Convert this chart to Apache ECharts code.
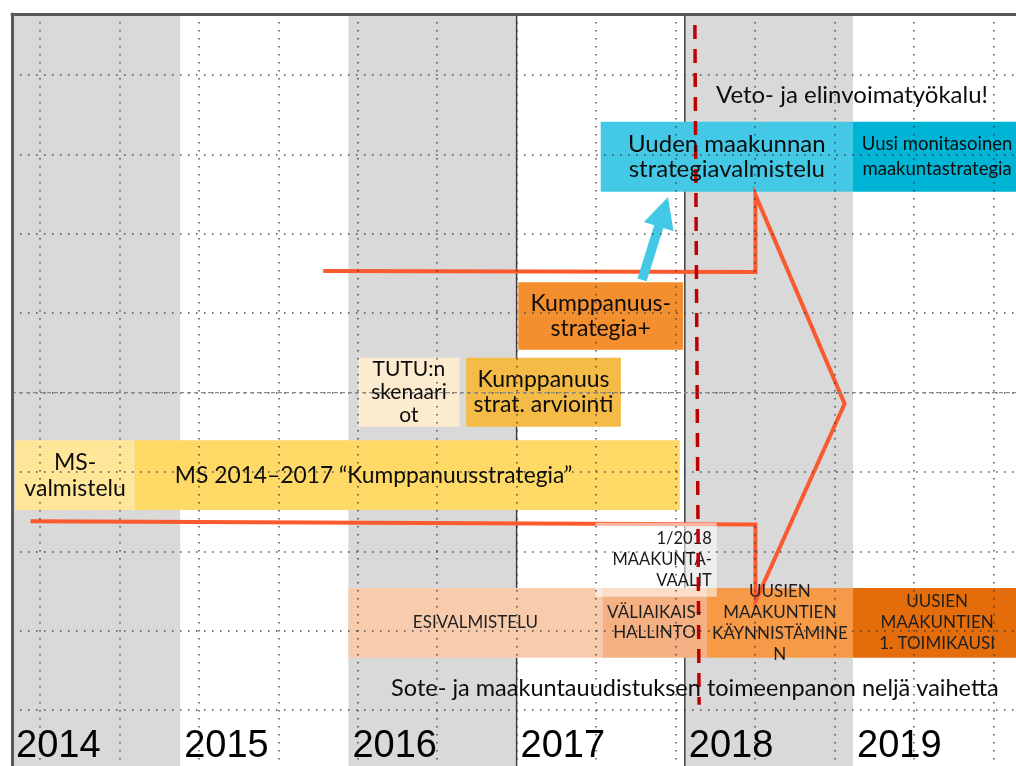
<!DOCTYPE html>
<html><head><meta charset="utf-8">
<script src="https://cdn.jsdelivr.net/npm/echarts@6/dist/echarts.min.js"></script>
<style>html,body{margin:0;padding:0;background:#fff}#c{width:1016px;height:766px}</style>
</head><body><div id="c"></div>
<script>
// ---------- data ----------
const yearLabels = ['2014', '2015', '2016', '2017', '2018', '2019'];
const shadedYears = [2014, 2016, 2018];
const dividerYears = [2017, 2018];

// phase boxes: time span (years) and vertical extent (lane units)
const boxNames = [
  'MS-\nvalmistelu',
  'MS 2014–2017 “Kumppanuusstrategia”',
  'TUTU:n\nskenaari\not',
  'Kumppanuus\nstrat. arviointi',
  'Kumppanuus-\nstrategia+',
  'Uuden maakunnan\nstrategiavalmistelu',
  'Uusi monitasoinen\nmaakuntastrategia',
  'ESIVALMISTELU',
  'VÄLIAIKAIS-\nHALLINTO',
  'UUSIEN\nMAAKUNTIEN\nKÄYNNISTÄMINE\nN',
  'UUSIEN\nMAAKUNTIEN\n1. TOIMIKAUSI'
];
const boxStart  = [2014.02, 2014.73, 2016.06, 2016.70, 2017.01, 2017.50, 2019.00, 2016.00, 2017.51, 2018.13, 2019.00];
const boxEnd    = [2014.73, 2017.97, 2016.66, 2017.62, 2017.99, 2019.00, 2020.00, 2017.51, 2018.13, 2019.00, 2020.00];
const laneTop   = [5.60, 5.60, 4.56, 4.56, 3.61, 1.59, 1.59, 7.46, 7.46, 7.46, 7.46];
const laneBottom= [6.48, 6.48, 5.43, 5.43, 4.46, 2.47, 2.47, 8.34, 8.34, 8.34, 8.34];

// election note box
const electionName = '1/2018\nMAAKUNTA-\nVAALIT';
const electionSpan = [2017.47, 2018.19];
const electionLanes = [6.64, 7.57];
const electionLineYear = [2018.06, 2018.085];
const electionLineLane = [0.37, 8.93];

// transition arrow outline (years, lanes)
const pathYear = [2015.85, 2018.42, 2018.42, 2018.95, 2018.42, 2018.42, 2014.11];
const pathLane = [3.47, 3.48, 2.51, 5.14, 7.63, 6.66, 6.62];

// cyan arrow from Kumppanuusstrategia+ to new strategy
const arrowYear = [2017.746, 2017.900];
const arrowLane = [3.58, 2.537];

// free notes
const noteTexts = ['Veto- ja elinvoimatyökalu!', 'Sote- ja maakuntauudistuksen toimeenpanon neljä vaihetta'];
const noteYear = [2018.994, 2018.06];
const noteLane = [1.252, 8.72];

const centerLane = 5;

// ---------- styles ----------
const FONT = 'Lato';
const boxFill = ['#FFE699', '#FFD966', '#FDEBCF', '#F4BC46', '#F48F2F', '#43C9E6', '#00B4D5', '#F8CBAD', '#F5B183', '#F69A48', '#E46C0A'];
const labelFmt = [
  {size: 23, lh: 26},
  {size: 22.8, lh: 26, align: 'left', dx: 40},
  {size: 21, lh: 23},
  {size: 23, lh: 25},
  {size: 23, lh: 25},
  {size: 24, lh: 25},
  {size: 18.5, lh: 25},
  {size: 17, lh: 20},
  {size: 17, lh: 20},
  {size: 17, lh: 21},
  {size: 17, lh: 21}
];
const noteSize = [24, 23.5];

const chart = echarts.init(document.getElementById('c'), null, {renderer: 'canvas'});

const hidden = {axisLine: {show: false}, axisTick: {show: false}, axisLabel: {show: false}, splitLine: {show: false}};
const dotted = {show: true, lineStyle: {color: 'rgba(50,50,50,0.85)', width: 1.5, type: [1.5, 6.5]}};

const option = {
  backgroundColor: '#fff',
  animation: false,
  grid: [
    {left: 12, top: -4.4, width: 1009.2, height: 794, outerBoundsMode: 'none', containLabel: false},
    {left: -39.44, top: 14, width: 79.44 * 14, height: 752, outerBoundsMode: 'none', containLabel: false},
    {left: 12, top: 14, width: 1009.2, height: 752, outerBoundsMode: 'none', containLabel: false}
  ],
  xAxis: [
    Object.assign({gridIndex: 0, type: 'value', min: 2014, max: 2020}, hidden),
    Object.assign({gridIndex: 1, type: 'value', min: 0, max: 14, interval: 1, z: 4}, hidden, {splitLine: dotted}),
    {gridIndex: 2, type: 'value', min: 2014, max: 2020, interval: 1, position: 'bottom', z: 10,
      axisLine: {show: false}, axisTick: {show: false}, splitLine: {show: false},
      axisLabel: {inside: true, margin: 0, align: 'left', padding: [0, 0, 0, 4], fontSize: 38,
        fontFamily: 'Liberation Sans', color: '#000', showMaxLabel: false,
        formatter: v => yearLabels[Math.round(v) - 2014] || ''}},
    {gridIndex: 2, type: 'value', min: 2014, max: 2020, position: 'top', z: 10,
      axisLine: {show: true, lineStyle: {color: '#595959', width: 3}}, axisTick: {show: false},
      axisLabel: {show: false}, splitLine: {show: false}}
  ],
  yAxis: [
    Object.assign({gridIndex: 0, type: 'value', min: 0, max: 10, interval: 1, inverse: true, z: 4}, hidden, {splitLine: dotted}),
    Object.assign({gridIndex: 1, type: 'value', min: 0, max: 1}, hidden),
    {gridIndex: 2, type: 'value', min: 0, max: 1, position: 'left', z: 10,
      axisLine: {show: true, lineStyle: {color: '#595959', width: 3}}, axisTick: {show: false},
      axisLabel: {show: false}, splitLine: {show: false}}
  ],
  series: [
    // shaded year bands
    {type: 'custom', xAxisIndex: 2, yAxisIndex: 2, z: 1, silent: true,
      data: shadedYears.map(y => [y, 0]), encode: {x: 0, y: 1},
      renderItem(params, api) {
        const cs = params.coordSys;
        const x0 = api.coord([api.value(0), 0])[0];
        const x1 = api.coord([api.value(0) + 1, 0])[0];
        return {type: 'rect', shape: {x: x0, y: cs.y, width: x1 - x0, height: cs.height}, style: {fill: '#D9D9D9'}};
      }},
    // year dividers
    {type: 'custom', xAxisIndex: 2, yAxisIndex: 2, z: 1.5, silent: true,
      data: dividerYears.map(y => [y, 0]), encode: {x: 0, y: 1},
      renderItem(params, api) {
        const cs = params.coordSys;
        const x = api.coord([api.value(0), 0])[0];
        return {type: 'line', shape: {x1: x, y1: cs.y, x2: x, y2: cs.y + cs.height}, style: {stroke: '#404040', lineWidth: 1.5}};
      }},
    // phase boxes
    {type: 'custom', xAxisIndex: 0, yAxisIndex: 0, z: 2, silent: true,
      data: boxNames.map((n, i) => [boxStart[i], boxEnd[i], laneTop[i], laneBottom[i], i]),
      encode: {x: [0, 1], y: [2, 3]},
      renderItem(params, api) {
        const i = api.value(4);
        const p0 = api.coord([api.value(0), api.value(2)]);
        const p1 = api.coord([api.value(1), api.value(3)]);
        return {type: 'rect', shape: {x: p0[0], y: p0[1], width: p1[0] - p0[0], height: p1[1] - p0[1]}, style: {fill: boxFill[i]}};
      }},
    // transition arrow outline
    {type: 'line', xAxisIndex: 0, yAxisIndex: 0, z: 3, silent: true, symbol: 'none',
      data: pathYear.map((x, i) => [x, pathLane[i]]),
      lineStyle: {color: '#FA5A2D', width: 4, join: 'miter'}},
    // cyan arrow
    {type: 'custom', xAxisIndex: 0, yAxisIndex: 0, z: 3.2, silent: true,
      data: [[arrowYear[0], arrowLane[0], arrowYear[1], arrowLane[1]]], encode: {x: [0, 2], y: [1, 3]},
      renderItem(params, api) {
        const a = api.coord([api.value(0), api.value(1)]);
        const b = api.coord([api.value(2), api.value(3)]);
        const dx = b[0] - a[0], dy = b[1] - a[1];
        const L = Math.sqrt(dx * dx + dy * dy);
        const ux = dx / L, uy = dy / L, nx = -uy, ny = ux;
        const hl = 31, hw = 15.5, sw = 4.8;
        const bx = b[0] - ux * hl, by = b[1] - uy * hl;
        const pts = [
          [a[0] + nx * sw, a[1] + ny * sw], [bx + nx * sw, by + ny * sw], [bx + nx * hw, by + ny * hw],
          [b[0], b[1]], [bx - nx * hw, by - ny * hw], [bx - nx * sw, by - ny * sw], [a[0] - nx * sw, a[1] - ny * sw]
        ];
        return {type: 'polygon', shape: {points: pts}, style: {fill: '#43C9E6'}};
      }},
    // election note box (translucent)
    {type: 'custom', xAxisIndex: 0, yAxisIndex: 0, z: 3.4, silent: true,
      data: [[electionSpan[0], electionSpan[1], electionLanes[0], electionLanes[1]]], encode: {x: [0, 1], y: [2, 3]},
      renderItem(params, api) {
        const p0 = api.coord([api.value(0), api.value(2)]);
        const p1 = api.coord([api.value(1), api.value(3)]);
        return {type: 'group', children: [
          {type: 'rect', shape: {x: p0[0], y: p0[1], width: p1[0] - p0[0], height: p1[1] - p0[1]}, style: {fill: 'rgba(255,255,255,0.55)'}},
          {type: 'text', z2: 50, style: {text: electionName, x: p1[0] - 5, y: (p0[1] + p1[1]) / 2, align: 'right', verticalAlign: 'middle',
            fontSize: 16.5, fontFamily: FONT, lineHeight: 21, fill: '#1a1a1a'}}
        ]};
      }},
    // election date line
    {type: 'line', xAxisIndex: 0, yAxisIndex: 0, z: 3.6, silent: true, symbol: 'none',
      data: electionLineYear.map((x, i) => [x, electionLineLane[i]]),
      lineStyle: {color: '#C00000', width: 3.5, type: [14, 10]}},
    // center dashed gridline
    {type: 'line', xAxisIndex: 0, yAxisIndex: 0, z: 4.1, silent: true, symbol: 'none',
      data: [[2014, centerLane], [2020, centerLane]],
      lineStyle: {color: '#8a8a8a', width: 1.2, type: [4, 3]}},
    // box labels
    {type: 'custom', xAxisIndex: 0, yAxisIndex: 0, z: 10, silent: true,
      data: boxNames.map((n, i) => [boxStart[i], boxEnd[i], laneTop[i], laneBottom[i], i]),
      encode: {x: [0, 1], y: [2, 3]},
      renderItem(params, api) {
        const i = api.value(4);
        const f = labelFmt[i];
        const p0 = api.coord([api.value(0), api.value(2)]);
        const p1 = api.coord([api.value(1), api.value(3)]);
        const align = f.align || 'center';
        const x = align === 'left' ? p0[0] + (f.dx || 0) : (p0[0] + p1[0]) / 2;
        return {type: 'text', style: {text: boxNames[i], x: x, y: (p0[1] + p1[1]) / 2, align: align, verticalAlign: 'middle',
          fontSize: f.size, fontFamily: FONT, lineHeight: f.lh, fill: i >= 7 ? '#1f1f1f' : '#0d0d0d'}};
      }},
    // free notes
    {type: 'custom', xAxisIndex: 0, yAxisIndex: 0, z: 10, silent: true,
      data: noteTexts.map((t, i) => [noteYear[i], noteLane[i], i]), encode: {x: 0, y: 1},
      renderItem(params, api) {
        const p = api.coord([api.value(0), api.value(1)]);
        const k = api.value(2);
        return {type: 'text', style: {text: noteTexts[k], x: p[0], y: p[1], align: 'center', verticalAlign: 'middle',
          fontSize: noteSize[k], fontFamily: FONT, fill: '#0d0d0d'}};
      }}
  ]
};
chart.setOption(option);
</script>
</body></html>
